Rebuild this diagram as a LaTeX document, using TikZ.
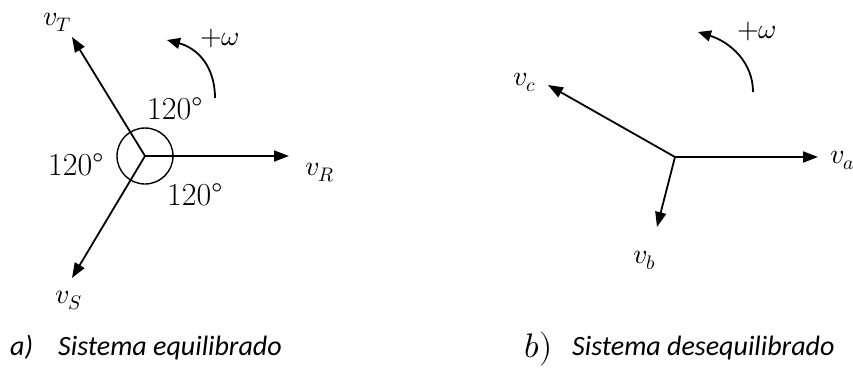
\documentclass[tikz,border=0pt]{standalone}
\usepackage{fontspec}
\usepackage{unicode-math}
\setmathfont{Latin Modern Math}
\newfontfamily\capfont{Carlito}
\usetikzlibrary{arrows.meta}

\begin{document}
\begin{tikzpicture}[x=1pt,y=-1pt,
    fasor/.style={line width=1.8pt,-{Triangle[length=15pt,width=11pt]}},
    giro/.style={line width=1.8pt,-{Triangle[length=13pt,width=11pt]}},
    etiq/.style={inner sep=0pt,anchor=base west,font=\fontsize{28}{32}\selectfont},
    angulo/.style={etiq,font=\fontsize{32}{36}\selectfont},
    leyenda/.style={inner sep=0pt,anchor=base west,font=\capfont\itshape\fontsize{28}{32}\selectfont}]
    \useasboundingbox (0,0) rectangle (853,367);

    % Sistema a
    \begin{scope}[shift={(145,156)}]
        \coordinate (oa) at (0,0);
        \coordinate (R) at (144,0); \coordinate (T) at (-73,-119); \coordinate (S) at (-73,122);
        \draw[line width=1.4pt] (oa) circle (28pt);
        \draw[fasor] (oa) -- (R); \draw[fasor] (oa) -- (T); \draw[fasor] (oa) -- (S);
        \node[etiq] (lR) at (160,19) {$v_R$};
        \node[etiq] (lT) at (-102,-131) {$v_T$};
        \node[etiq] (lS) at (-90,147) {$v_S$};
        \node[angulo] (g1) at (2,-37) {120\textdegree};
        \node[angulo] (g2) at (-97,19) {120\textdegree};
        \node[angulo] (g3) at (22,49) {120\textdegree};
        \coordinate (wa0) at (70,-58); \coordinate (wa1) at (22,-116);
        \draw[giro] (wa0) .. controls (70,-90) and (52,-108) .. (wa1);
        \node[etiq] (wa) at (55,-111) {$+\omega$};
    \end{scope}

    % Sistema b
    \begin{scope}[shift={(675,157)}]
        \coordinate (ob) at (0,0);
        \coordinate (A) at (143,0); \coordinate (B) at (-18,70); \coordinate (C) at (-127,-72);
        \draw[fasor] (ob) -- (A); \draw[fasor] (ob) -- (B); \draw[fasor] (ob) -- (C);
        \node[etiq] (la) at (155,6) {$v_a$};
        \node[etiq] (lb) at (-42,106) {$v_b$};
        \node[etiq] (lc) at (-162,-72) {$v_c$};
        \coordinate (wb0) at (78,-65); \coordinate (wb1) at (23,-125);
        \draw[giro] (wb0) .. controls (78,-95) and (55,-115) .. (wb1);
        \node[etiq] (wb) at (62,-119) {$+\omega$};
    \end{scope}

    % leyendas
    \node[leyenda] (ca) at (10,355) {a)};
    \node[leyenda] (ta) at (58,355) {Sistema equilibrado};
    \node[etiq,font=\fontsize{34}{38}\selectfont] (cb) at (524,357) {$b)$};
    \node[leyenda] (tb) at (572,355) {Sistema desequilibrado};
\end{tikzpicture}
\end{document}
